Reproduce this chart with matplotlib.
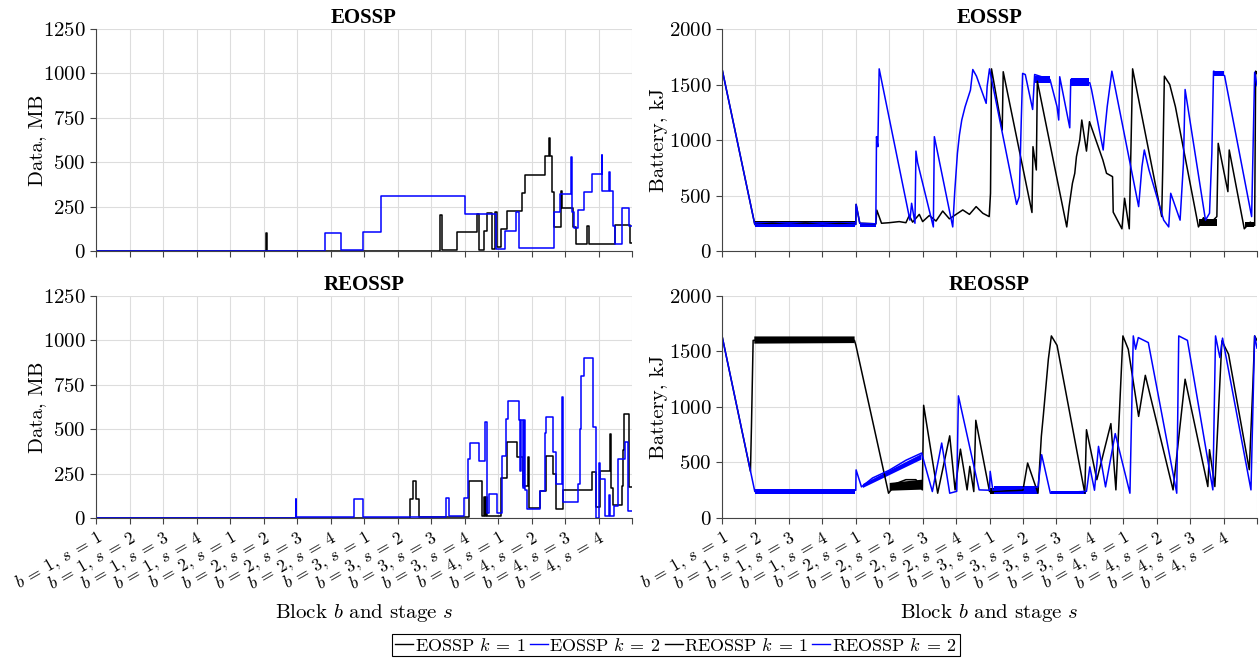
import numpy as np
import matplotlib
matplotlib.use('Agg')
import matplotlib.pyplot as plt

plt.rcParams['font.family'] = 'cmr10'
plt.rcParams['mathtext.fontset'] = 'cm'
plt.rcParams['axes.formatter.use_mathtext'] = True
plt.rcParams['font.size'] = 14

# x axis: 4 blocks x 4 stages
tick_labels = ['$b\\:=\\:%d,\\:s\\:=\\:%d$' % (b, s) for b in range(1, 5) for s in range(1, 5)]

# ---- data storage (MB), step values starting at each x ----
eossp_data_k1_x = [0, 5.08, 5.10, 10.26, 10.32, 10.79, 11.37, 11.44, 11.58, 11.68, 11.83, 11.92,
                   11.98, 12.10, 12.26, 12.73, 12.80, 13.40, 13.52, 13.54, 13.60, 13.68, 13.87,
                   13.90, 14.23, 14.33, 14.65, 14.73, 15.50, 15.95, 16.0]
eossp_data_k1_y = [0, 104, 0, 205, 8, 109, 211, 8, 113, 215, 13, 219,
                   23, 123, 224, 328, 430, 536, 636, 536, 334, 136, 340,
                   240, 136, 42, 141, 42, 145, 47, 47]

eossp_data_k2_x = [0, 6.83, 7.31, 7.96, 8.50, 11.00, 11.95, 12.20, 12.55, 12.62, 13.67, 13.86,
                   14.19, 14.21, 14.28, 14.40, 14.56, 14.82, 15.09, 15.11, 15.32, 15.34, 15.43,
                   15.50, 15.70, 15.90, 16.0]
eossp_data_k2_y = [0, 102, 4, 108, 311, 211, 10, 113, 217, 15, 219, 323,
                   528, 221, 130, 230, 334, 436, 538, 340, 443, 340, 140,
                   42, 243, 140, 140]

reossp_data_k1_x = [0, 9.37, 9.45, 9.54, 9.63, 11.13, 11.52, 11.57, 11.62, 11.65, 11.68, 12.10,
                    12.26, 12.57, 12.76, 12.88, 12.92, 13.26, 13.42, 13.65, 13.72, 13.93, 14.82,
                    14.91, 15.03, 15.35, 15.37, 15.43, 15.70, 15.74, 15.76, 15.90, 16.0]
reossp_data_k1_y = [0, 105, 208, 107, 5, 210, 11, 116, 11, 116, 11, 227,
                    430, 345, 180, 345, 55, 150, 350, 250, 50, 160, 260,
                    64, 265, 470, 170, 73, 180, 380, 583, 176, 176]

reossp_data_k2_x = [0, 5.96, 5.98, 7.71, 7.96, 10.45, 10.53, 10.97, 11.10, 11.16, 11.44, 11.62,
                    11.66, 11.72, 11.97, 12.13, 12.23, 12.31, 12.63, 12.66, 12.70, 12.75, 12.79,
                    12.82, 12.87, 13.26, 13.41, 13.44, 13.65, 13.72, 13.91, 13.93, 14.38, 14.45,
                    14.49, 14.56, 14.83, 14.91, 15.01, 15.05, 15.19, 15.30, 15.33, 15.46, 15.59,
                    15.80, 15.89, 16.0]
reossp_data_k2_y = [0, 105, 3, 107, 3, 110, 10, 115, 330, 420, 320, 540,
                    30, 135, 30, 350, 560, 657, 550, 265, 550, 170, 550,
                    160, 50, 150, 480, 570, 370, 190, 680, 90, 190, 500,
                    800, 900, 515, 0, 310, 220, 10, 130, 10, 70, 330,
                    430, 40, 40]

# ---- battery (kJ) ----
eossp_bat_k1_x = [0, 0.98, 1.5, 2.0, 2.5, 3.0, 3.5, 4.0, 4.01, 4.12, 4.60, 4.63, 4.77, 5.0, 5.3,
                  5.5, 5.6, 5.7, 5.9, 6.0, 6.2, 6.4, 6.6, 6.8, 7.0, 7.2, 7.4, 7.6, 7.8, 7.99,
                  8.03, 8.06, 8.38, 8.41, 9.27, 9.30, 9.40, 9.43, 10.31, 10.38, 10.48, 10.55,
                  10.60, 10.70, 10.76, 10.90, 10.99, 11.39, 11.50, 11.68, 11.70, 11.96, 12.04,
                  12.18, 12.28, 13.15, 13.18, 13.23, 13.39, 13.56, 14.25, 14.4, 14.6, 14.8,
                  14.84, 15.13, 15.17, 15.62, 15.8, 15.93, 15.96, 16.0]
eossp_bat_k1_y = [1641, 239, 250, 240, 252, 238, 248, 240, 420, 250, 245, 368, 250, 255, 265,
                  255, 320, 260, 330, 265, 320, 270, 360, 290, 330, 370, 330, 400, 340, 310,
                  520, 1641, 1090, 1615, 347, 940, 730, 1530, 217, 400, 610, 700,
                  850, 1000, 1180, 900, 1165, 820, 700, 670, 350, 200, 475,
                  200, 1641, 310, 730, 1575, 1500, 1300, 217, 300, 250, 310,
                  970, 535, 910, 200, 260, 230, 1620, 1600]

eossp_bat_k2_x = [0, 0.98, 1.5, 2.0, 2.5, 3.0, 3.5, 4.0, 4.01, 4.12, 4.60, 4.62, 4.66, 4.70,
                  5.62, 5.67, 5.77, 5.80, 5.85, 6.32, 6.35, 6.90, 6.96, 7.04, 7.10, 7.17, 7.27,
                  7.43, 7.50, 7.61, 7.90, 7.93, 8.00, 8.81, 8.89, 8.95, 8.99, 9.07, 9.29, 9.35,
                  9.81, 10.02, 10.07, 10.10, 10.40, 10.43, 11.00, 11.05, 11.40, 11.45, 11.52,
                  11.66, 12.46, 12.56, 12.63, 12.77, 13.21, 13.36, 13.42, 13.70, 13.80, 13.85,
                  14.46, 14.58, 14.65, 14.70, 15.03, 15.84, 15.93, 16.0]
eossp_bat_k2_y = [1641, 239, 235, 242, 236, 240, 234, 240, 420, 250, 245, 1030, 940, 1641,
                  278, 430, 250, 900, 795, 217, 1030, 217, 535, 880, 1045, 1180, 1300,
                  1450, 1635, 1575, 1330, 1485, 1641, 420, 490, 1180, 1600, 1590, 1275, 1590,
                  1545, 1300, 1180, 1570, 1110, 1545, 1515, 1455, 910, 1090, 1300,
                  1620, 400, 760, 910, 730, 278, 217, 520, 278, 790, 1455,
                  278, 340, 880, 1620, 1580, 310, 1610, 1490]

reossp_bat_k1_x = [0, 0.85, 0.88, 0.93, 1.5, 2.0, 2.02, 2.5, 3.0, 3.2, 3.5, 3.96, 4.0, 4.98,
                   5.2, 5.5, 5.8, 5.99, 6.03, 6.45, 6.81, 6.97, 7.13, 7.33, 7.41, 7.53, 7.59,
                   8.0, 9.0, 9.14, 9.45, 9.55, 9.61, 9.76, 9.85, 10.02, 10.85, 10.90, 11.21,
                   11.63, 11.78, 11.99, 12.15, 12.46, 12.66, 13.49, 13.85, 14.53, 14.58, 14.74,
                   14.95, 15.15, 15.77, 15.88, 15.93, 16.0]
reossp_bat_k1_y = [1640, 420, 825, 1600, 1610, 1615, 1585, 1600, 1615, 1595, 1610, 1600, 1560, 223,
                   310, 345, 345, 253, 1015, 223, 740, 253, 620, 253, 465, 238, 880,
                   238, 250, 495, 223, 735, 925, 1430, 1640, 1555, 223, 795, 345,
                   850, 253, 1640, 1520, 915, 1285, 253, 1250, 283, 615, 283,
                   1595, 1475, 435, 1220, 1640, 1600]

reossp_bat_k2_x = [0, 0.98, 1.5, 2.0, 2.5, 3.0, 3.5, 4.0, 4.01, 4.17, 4.5, 5.0, 5.5, 5.97,
                   6.29, 6.57, 6.81, 7.02, 7.07, 7.69, 8.0, 8.02, 8.1, 9.45, 9.56, 9.82, 10.90,
                   11.0, 11.14, 11.26, 11.47, 11.76, 12.20, 12.30, 12.37, 12.45, 12.75, 13.60,
                   13.66, 13.92, 14.68, 14.76, 14.89, 14.97, 15.82, 15.93, 16.0]
reossp_bat_k2_y = [1640, 238, 242, 236, 244, 238, 242, 250, 433, 280, 360, 430, 520, 585,
                   238, 675, 223, 240, 1100, 253, 250, 420, 250, 280, 570, 223, 240,
                   460, 250, 645, 280, 760, 223, 1640, 1520, 1625, 1580, 223,
                   1640, 1600, 253, 1640, 1445, 1620, 253, 1640, 1530]

# noisy bands around the flat parts: x0, x1, low at x0/x1, high at x0/x1
eossp_bat_k1_bands = [(1.00, 3.98, 225, 225, 270, 270),
                      (14.26, 14.80, 225, 225, 290, 290), (15.63, 15.92, 215, 215, 260, 260)]
eossp_bat_k2_bands = [(1.00, 3.98, 215, 215, 262, 262), (4.13, 4.59, 218, 218, 256, 256),
                      (9.36, 9.80, 1510, 1510, 1580, 1580), (10.44, 10.98, 1490, 1490, 1555, 1555),
                      (14.71, 15.02, 1575, 1575, 1625, 1625)]
reossp_bat_k1_bands = [(0.95, 3.95, 1575, 1580, 1640, 1640), (5.0, 5.98, 250, 260, 320, 350),
                       (8.0, 9.1, 220, 220, 270, 270)]
reossp_bat_k2_bands = [(1.00, 3.98, 218, 218, 265, 265), (4.20, 5.95, 275, 530, 310, 580),
                       (8.12, 9.44, 220, 220, 285, 285), (9.85, 10.88, 218, 218, 245, 245)]

# ---- layout ----
fig = plt.figure(figsize=(12.59, 6.59), dpi=100)
ax_tl = fig.add_axes([0.0763, 0.6191, 0.4257, 0.3369])
ax_tr = fig.add_axes([0.5735, 0.6191, 0.4249, 0.3369])
ax_bl = fig.add_axes([0.0763, 0.2140, 0.4257, 0.3369])
ax_br = fig.add_axes([0.5735, 0.2140, 0.4249, 0.3369])

lw = 1.1
ax_tl.step(eossp_data_k1_x, eossp_data_k1_y, where='post', color='black', lw=lw)
ax_tl.step(eossp_data_k2_x, eossp_data_k2_y, where='post', color='blue', lw=lw)
ax_bl.step(reossp_data_k1_x, reossp_data_k1_y, where='post', color='black', lw=lw)
ax_bl.step(reossp_data_k2_x, reossp_data_k2_y, where='post', color='blue', lw=lw)


def draw_bands(ax, bands, color):
    for x0, x1, lo0, lo1, hi0, hi1 in bands:
        ax.fill_between([x0, x1], [lo0, lo1], [hi0, hi1], color=color, lw=0)


draw_bands(ax_tr, eossp_bat_k1_bands, 'black')
ax_tr.plot(eossp_bat_k1_x, eossp_bat_k1_y, color='black', lw=lw)
draw_bands(ax_tr, eossp_bat_k2_bands, 'blue')
ax_tr.plot(eossp_bat_k2_x, eossp_bat_k2_y, color='blue', lw=lw)

draw_bands(ax_br, reossp_bat_k1_bands, 'black')
ax_br.plot(reossp_bat_k1_x, reossp_bat_k1_y, color='black', lw=lw)
draw_bands(ax_br, reossp_bat_k2_bands, 'blue')
ax_br.plot(reossp_bat_k2_x, reossp_bat_k2_y, color='blue', lw=lw)

for ax, title in [(ax_tl, 'EOSSP'), (ax_tr, 'EOSSP'), (ax_bl, 'REOSSP'), (ax_br, 'REOSSP')]:
    ax.set_title(title, fontfamily='Liberation Serif', fontweight='bold', fontsize=15, pad=4)
    ax.set_xlim(0, 16)
    ax.set_xticks(range(17))
    ax.grid(True, color='#dddddd', lw=0.8)
    ax.set_axisbelow(True)
    for side in ['top', 'right']:
        ax.spines[side].set_visible(False)
    for side in ['left', 'bottom']:
        ax.spines[side].set_color('#444444')
    ax.tick_params(direction='out', length=4, color='#444444', labelsize=15)

for ax in [ax_tl, ax_bl]:
    ax.set_ylim(0, 1250)
    ax.set_yticks([0, 250, 500, 750, 1000, 1250])
    ax.set_ylabel('Data, MB', fontsize=15)
    ax.yaxis.set_label_coords(-0.093, 0.5)

for ax in [ax_tr, ax_br]:
    ax.set_ylim(0, 2000)
    ax.set_yticks([0, 500, 1000, 1500, 2000])
    ax.set_ylabel('Battery, kJ', fontsize=15)
    ax.yaxis.set_label_coords(-0.101, 0.5)

for ax in [ax_tl, ax_tr]:
    ax.set_xticklabels([])

for ax in [ax_bl, ax_br]:
    ax.set_xticklabels(tick_labels + [''], rotation=30, ha='right', va='top',
                       rotation_mode='anchor', fontsize=12.5)
    ax.set_xlabel('Block $b$ and stage $s$', fontsize=15)
    ax.xaxis.set_label_coords(0.5, -0.38)

# legend along the bottom
handles = [plt.Line2D([], [], color='black', lw=1),
           plt.Line2D([], [], color='blue', lw=1),
           plt.Line2D([], [], color='black', lw=1),
           plt.Line2D([], [], color='blue', lw=1)]
labels = ['EOSSP $k\\:=\\:1$', 'EOSSP $k\\:=\\:2$', 'REOSSP $k\\:=\\:1$', 'REOSSP $k\\:=\\:2$']
leg = fig.legend(handles, labels, loc='center', bbox_to_anchor=(0.537, 0.021), ncol=4,
                 fontsize=13, handlelength=1.0, handletextpad=0.1, columnspacing=0.2,
                 borderpad=0.15, borderaxespad=0, fancybox=False, edgecolor='black',
                 framealpha=1)
leg.get_frame().set_linewidth(0.8)

fig.savefig('out.png', dpi=100)
